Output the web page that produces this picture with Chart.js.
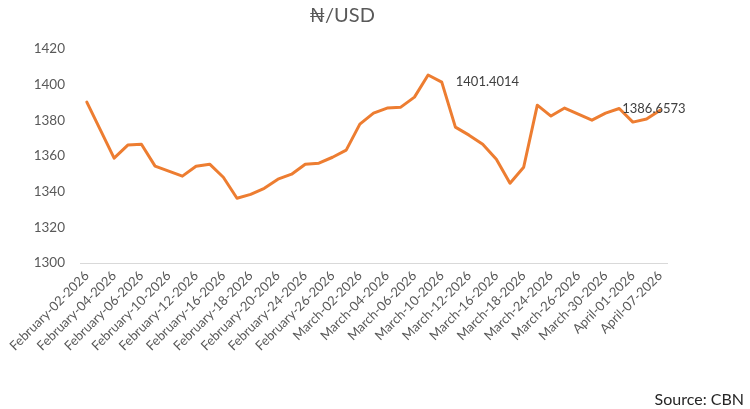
<!DOCTYPE html>
<html>
<head>
<meta charset="utf-8">
<script src="https://cdn.jsdelivr.net/npm/chart.js@4.4.1/dist/chart.umd.min.js"></script>
<style>
  html, body { margin: 0; padding: 0; background: #fff; }
  #wrap { position: relative; width: 750px; height: 409px; }
</style>
</head>
<body>
<div id="wrap"><canvas id="rateChart"></canvas></div>
<script>
// === Data (CBN official NGN/USD rate) ===
const dates = [
  "February-02-2026", "February-03-2026", "February-04-2026", "February-05-2026",
  "February-06-2026", "February-09-2026", "February-10-2026", "February-11-2026",
  "February-12-2026", "February-13-2026", "February-16-2026", "February-17-2026",
  "February-18-2026", "February-19-2026", "February-20-2026", "February-23-2026",
  "February-24-2026", "February-25-2026", "February-26-2026", "February-27-2026",
  "March-02-2026", "March-03-2026", "March-04-2026", "March-05-2026",
  "March-06-2026", "March-09-2026", "March-10-2026", "March-11-2026",
  "March-12-2026", "March-13-2026", "March-16-2026", "March-17-2026",
  "March-18-2026", "March-19-2026", "March-24-2026", "March-25-2026",
  "March-26-2026", "March-27-2026", "March-30-2026", "March-31-2026",
  "April-01-2026", "April-02-2026", "April-07-2026"
];

const rates = [
  1390.2, 1374.5, 1358.8, 1366.1, 1366.6, 1354.3, 1351.5, 1348.7,
  1354.3, 1355.4, 1348.1, 1336.3, 1338.5, 1341.9, 1347.0, 1349.8,
  1355.4, 1356.0, 1359.3, 1363.3, 1377.9, 1384.0, 1386.9, 1387.4,
  1393.0, 1405.4, 1401.4014, 1376.2, 1371.7, 1366.6, 1358.2, 1344.7,
  1353.7, 1388.5, 1382.4, 1386.9, 1383.5, 1380.1, 1384.0, 1386.6573,
  1379.0, 1380.7, 1385.7
];

// points that carry a value label, with their x offset
const labelledPoints = [26, 39];
const labelOffsets = [14, 3];

const yTicks = [1300, 1320, 1340, 1360, 1380, 1400, 1420];

const grey = "#595959";
const lineColour = "#ED7D31";
const fontFamily = "Lato, 'DejaVu Sans', sans-serif";

// === Small inline plugin: title, value labels, source note ===
const annotations = {
  id: "annotations",
  afterDatasetsDraw(chart) {
    const ctx = chart.ctx;
    const meta = chart.getDatasetMeta(0);
    ctx.save();
    ctx.textBaseline = "middle";

    ctx.font = "20px " + fontFamily;
    ctx.fillStyle = grey;
    ctx.textAlign = "center";
    ctx.fillText("₦/USD", 342, 16);

    ctx.font = "13px " + fontFamily;
    ctx.fillStyle = "#404040";
    ctx.textAlign = "left";
    labelledPoints.forEach((idx, i) => {
      const pt = meta.data[idx];
      ctx.fillText(rates[idx].toFixed(4), pt.x + labelOffsets[i], pt.y);
    });

    ctx.font = "16px " + fontFamily;
    ctx.fillStyle = "#262626";
    ctx.textAlign = "right";
    ctx.fillText("Source: CBN", 744, 400);
    ctx.restore();
  }
};

new Chart(document.getElementById("rateChart"), {
  type: "line",
  data: {
    labels: dates,
    datasets: [{
      label: "₦/USD",
      data: rates,
      borderColor: lineColour,
      borderWidth: 3,
      pointRadius: 0,
      tension: 0,
      borderJoinStyle: "round",
      borderCapStyle: "round"
    }]
  },
  options: {
    responsive: true,
    maintainAspectRatio: false,
    animation: false,
    layout: { padding: { top: 49, left: 0, right: 83, bottom: 0 } },
    plugins: {
      legend: { display: false },
      tooltip: { enabled: false },
      title: { display: false }
    },
    scales: {
      x: {
        offset: true,
        grid: { display: false, drawTicks: false },
        border: { color: "#d9d9d9", width: 1 },
        ticks: {
          autoSkip: false,
          maxRotation: 45,
          minRotation: 45,
          color: grey,
          padding: 5,
          font: { family: fontFamily, size: 13 },
          callback: (val, i) => (i % 2 === 0 ? dates[i] : "")
        },
        afterFit: (scale) => { scale.height = 146; }
      },
      y: {
        min: yTicks[0],
        max: yTicks[yTicks.length - 1],
        grid: { display: false, drawTicks: false },
        border: { display: false },
        ticks: {
          stepSize: 20,
          color: grey,
          padding: 15,
          font: { family: fontFamily, size: 13.5 },
          callback: (v) => String(v)
        },
        afterFit: (scale) => { scale.width = 80; }
      }
    }
  },
  plugins: [annotations]
});
</script>
</body>
</html>
